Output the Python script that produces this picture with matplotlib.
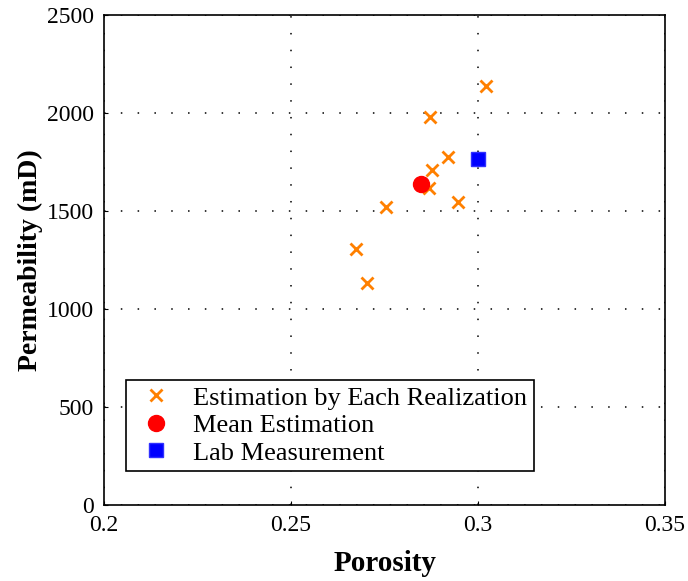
import matplotlib
matplotlib.use('Agg')
import matplotlib.pyplot as plt

# realizations, mean and lab point
por_real = [0.3021, 0.2872, 0.2919, 0.2878, 0.2870, 0.2947, 0.2753, 0.2673, 0.2702]
perm_real = [2135, 1977, 1776, 1708, 1615, 1543, 1521, 1304, 1134]
por_mean = [0.2848]
perm_mean = [1636]
por_lab = [0.3000]
perm_lab = [1764]

plt.rcParams['font.family'] = ['Liberation Serif', 'DejaVu Serif']

fig = plt.figure(figsize=(6.88, 5.81), dpi=100)
ax = fig.add_axes([0.1512, 0.130, 0.8154, 0.845])

ax.plot(por_real, perm_real, 'x', color='#FF8000', ms=8, mew=2,
        linestyle='none', label='Estimation by Each Realization')
ax.plot(por_mean, perm_mean, 'o', color='red', ms=11.5,
        linestyle='none', label='Mean Estimation')
ax.plot(por_lab, perm_lab, 's', color='blue', ms=10, mec='#3030ff',
        linestyle='none', label='Lab Measurement')

ax.set_xlim(0.2, 0.35)
ax.set_ylim(0, 2500)
ax.set_xticks([0.2, 0.25, 0.3, 0.35])
ax.set_xticklabels(['0.2', '0.25', '0.3', '0.35'])
ax.set_yticks([0, 500, 1000, 1500, 2000, 2500])
ax.grid(True, color='black', linestyle=(0, (1, 10)), linewidth=1.1)
ax.tick_params(direction='in', length=3, labelsize=17, top=False, right=False)
ax.tick_params(axis='y', pad=7)
ax.tick_params(axis='x', pad=7)
for s in ax.spines.values():
    s.set_linewidth(1.2)

ax.set_xlabel('Porosity', fontsize=21, fontweight='bold', labelpad=10)
ax.set_ylabel('Permeability (mD)', fontsize=20, fontweight='bold', labelpad=3)

leg = ax.legend(loc='lower left', bbox_to_anchor=(0.039, 0.070), borderaxespad=0,
                fontsize=19, fancybox=False, framealpha=1, edgecolor='black',
                handletextpad=0.5, labelspacing=0.15, borderpad=0.25,
                handlelength=1.8)
leg.get_frame().set_linewidth(1.2)

fig.savefig('out.png', dpi=100)
